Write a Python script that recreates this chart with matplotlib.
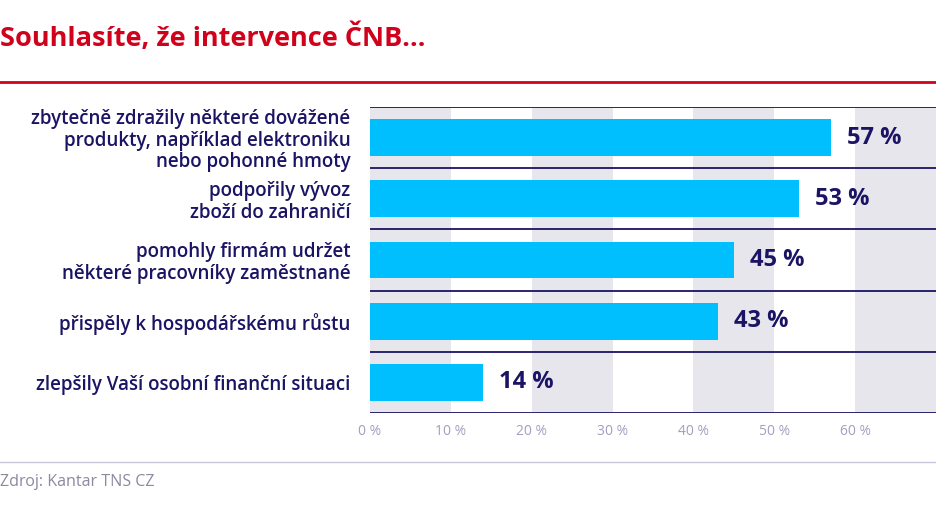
import matplotlib.pyplot as plt
from matplotlib.lines import Line2D

categories = ['zbytečně zdražily některé dovážené\nprodukty, například elektroniku\nnebo pohonné hmoty',
              'podpořily vývoz\nzboží do zahraničí',
              'pomohly firmám udržet\nněkteré pracovníky zaměstnané',
              'přispěly k hospodářskému růstu',
              'zlepšily Vaší osobní finanční situaci']
values = [57, 53, 45, 43, 14]
ticks = [0, 10, 20, 30, 40, 50, 60]

plt.rcParams['font.family'] = 'Open Sans'
navy = '#1b1464'
fig = plt.figure(figsize=(9.36, 5.26), dpi=100)
ax = fig.add_axes([370 / 936, 1 - 413 / 526, 566 / 936, 306 / 526])

# alternating gray bands
for start in range(0, 70, 20):
    ax.axvspan(start, start + 10, color='#e6e6ec', lw=0, zorder=0)

ypos = [len(values) - 0.5 - i for i in range(len(values))]
ax.barh(ypos, values, height=0.6, color='#00bfff', zorder=2)
for y, v in zip(ypos, values):
    ax.text(v + 2, y, f'{v} %', va='center', ha='left', fontsize=17,
            fontweight='bold', color=navy)
for i in range(len(values) + 1):
    ax.axhline(i, color=navy, lw=1.3, zorder=3)

ax.set_xlim(0, 70)
ax.set_ylim(0, len(values))
ax.set_yticks(ypos)
ax.set_yticklabels(categories, fontsize=13.5, color=navy, linespacing=1.1,
                   fontweight='semibold')
ax.set_xticks(ticks)
ax.set_xticklabels([f'{t} %' for t in ticks], fontsize=10, color='#a0a0c0')
ax.tick_params(length=0, axis='y', pad=14)
ax.tick_params(length=0, axis='x', pad=8)
for s in ax.spines.values():
    s.set_visible(False)
for lbl in ax.get_yticklabels():
    lbl.set_horizontalalignment('right')

fig.text(0.0, 1 - 38 / 526, 'Souhlasíte, že intervence ČNB…', fontsize=19.5,
         fontweight='bold', color='#d0021b', va='center')
fig.add_artist(Line2D([0, 1], [1 - 82 / 526] * 2, color='#d0021b', lw=2))
fig.add_artist(Line2D([0, 1], [1 - 462 / 526] * 2, color='#c8c8d8', lw=1))
fig.text(0.0, 1 - 482 / 526, 'Zdroj: Kantar TNS CZ', fontsize=11.5,
         color='#8a8aa0', va='center')

fig.savefig('out.png', dpi=100)
